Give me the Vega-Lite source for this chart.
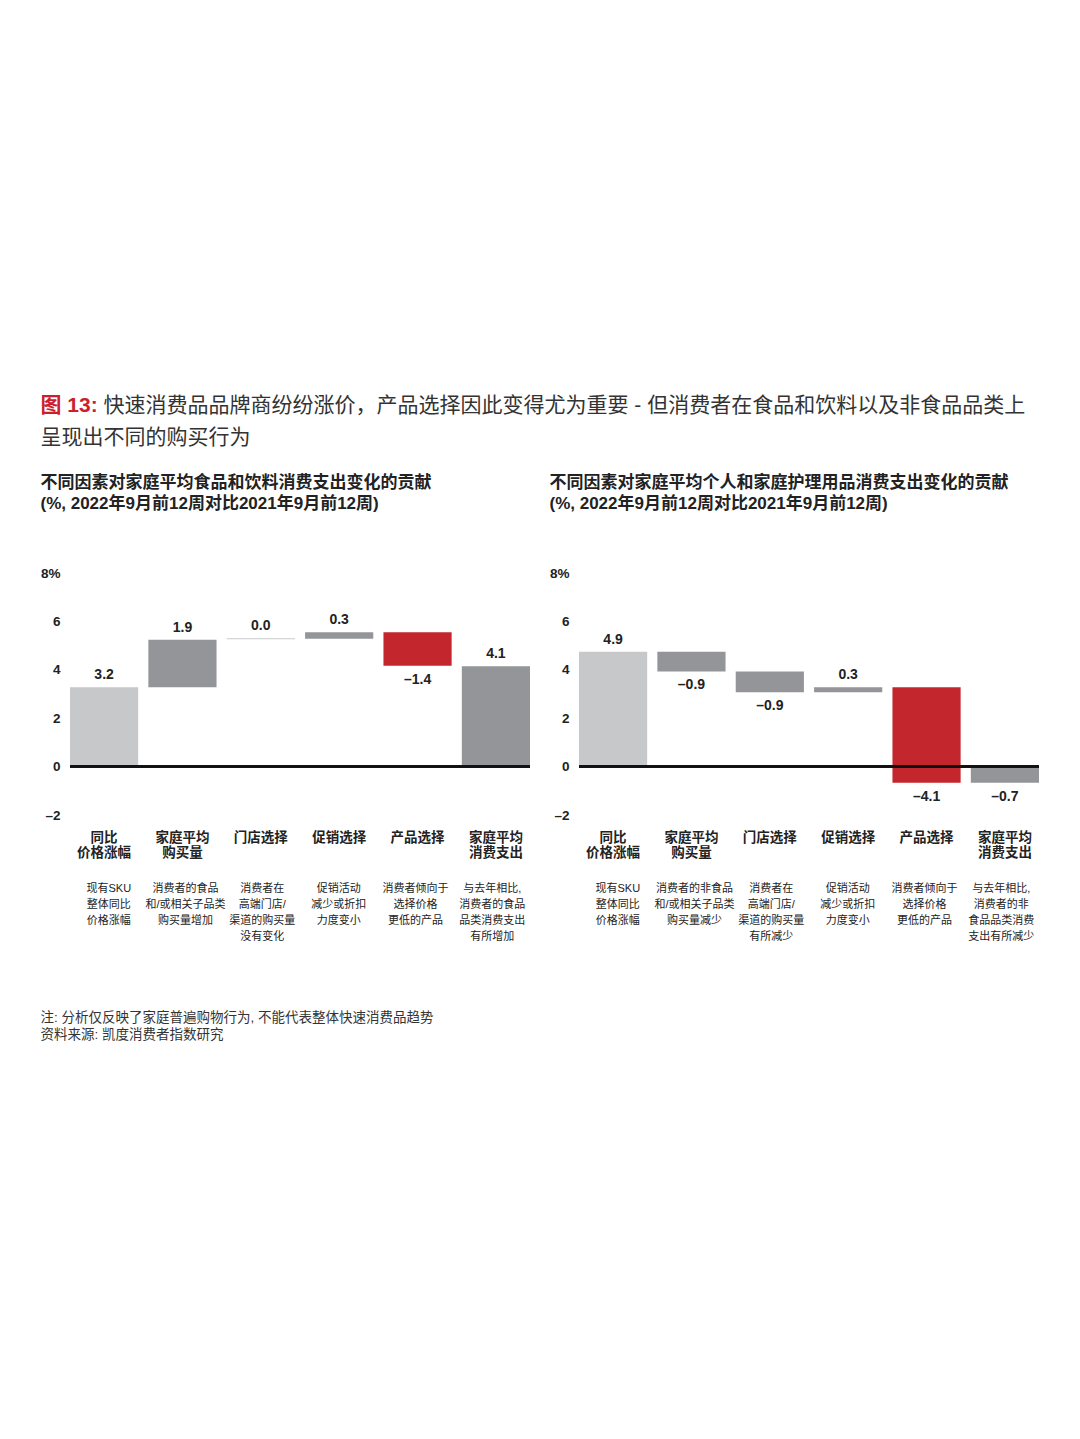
{
  "$schema": "https://vega.github.io/schema/vega-lite/v6.json",
  "padding": {"left": 40, "top": 395, "right": 20, "bottom": 10},
  "background": "white",
  "config": {
    "font": "Liberation Sans, Noto Sans CJK SC, sans-serif",
    "view": {"stroke": null},
    "axis": {"grid": false, "domain": false, "ticks": false},
    "axisX": {"labelAngle": 0}
  },
  "datasets": {
    "food": [
      {"cat": "同比|价格涨幅", "desc": "现有SKU|整体同比|价格涨幅", "start": 0, "end": 3.28, "label": "3.2", "kind": "起点"},
      {"cat": "家庭平均|购买量", "desc": "消费者的食品|和/或相关子品类|购买量增加", "start": 3.28, "end": 5.24, "label": "1.9", "kind": "变化"},
      {"cat": "门店选择", "desc": "消费者在|高端门店/|渠道的购买量|没有变化", "start": 5.26, "end": 5.3, "label": "0.0", "kind": "持平"},
      {"cat": "促销选择", "desc": "促销活动|减少或折扣|力度变小", "start": 5.28, "end": 5.55, "label": "0.3", "kind": "变化"},
      {"cat": "产品选择", "desc": "消费者倾向于|选择价格|更低的产品", "start": 5.55, "end": 4.17, "label": "–1.4", "kind": "产品选择"},
      {"cat": "家庭平均|消费支出", "desc": "与去年相比,|消费者的食品|品类消费支出|有所增加", "start": 0, "end": 4.15, "label": "4.1", "kind": "终点"}
    ],
    "care": [
      {"cat": "同比|价格涨幅", "desc": "现有SKU|整体同比|价格涨幅", "start": 0, "end": 4.75, "label": "4.9", "kind": "起点"},
      {"cat": "家庭平均|购买量", "desc": "消费者的非食品|和/或相关子品类|购买量减少", "start": 4.75, "end": 3.93, "label": "–0.9", "kind": "变化"},
      {"cat": "门店选择", "desc": "消费者在|高端门店/|渠道的购买量|有所减少", "start": 3.93, "end": 3.07, "label": "–0.9", "kind": "变化"},
      {"cat": "促销选择", "desc": "促销活动|减少或折扣|力度变小", "start": 3.07, "end": 3.28, "label": "0.3", "kind": "变化"},
      {"cat": "产品选择", "desc": "消费者倾向于|选择价格|更低的产品", "start": 3.28, "end": -0.67, "label": "–4.1", "kind": "产品选择"},
      {"cat": "家庭平均|消费支出", "desc": "与去年相比,|消费者的非|食品品类消费|支出有所减少", "start": 0, "end": -0.67, "label": "–0.7", "kind": "终点"}
    ]
  },
  "title": {
    "text": ["注: 分析仅反映了家庭普遍购物行为, 不能代表整体快速消费品趋势", "资料来源: 凯度消费者指数研究"],
    "orient": "bottom", "anchor": "start", "fontSize": 13.5, "fontWeight": "normal",
    "color": "#333", "offset": 70, "lineHeight": 17
  },
  "vconcat": [
    {
      "title": {"text": "图 13:", "color": "#cc1e2c", "fontSize": 21, "fontWeight": "bold", "anchor": "start", "offset": -21},
      "vconcat": [
        {
          "title": {
            "text": ["\u200b\u3000\u3000\u3000快速消费品品牌商纷纷涨价，产品选择因此变得尤为重要 - 但消费者在食品和饮料以及非食品品类上", "呈现出不同的购买行为"],
            "fontSize": 21, "fontWeight": "normal", "lineHeight": 32, "anchor": "start",
            "color": "#333", "offset": 26
          },
          "spacing": 18,
          "hconcat": [
            {
              "width": 460,
              "height": 242,
              "title": {
                "text": ["不同因素对家庭平均食品和饮料消费支出变化的贡献", "(%, 2022年9月前12周对比2021年9月前12周)"],
                "anchor": "start", "fontSize": 17, "fontWeight": "bold", "lineHeight": 21, "offset": 53, "color": "#222"
              },
              "data": {"name": "food"},
              "layer": [
                {
                  "layer": [
                    {
                      "mark": {"type": "bar"},
                      "encoding": {
                        "x": {
                          "field": "cat", "type": "nominal", "title": null,
                          "scale": {"domain": ["同比|价格涨幅", "家庭平均|购买量", "门店选择", "促销选择", "产品选择", "家庭平均|消费支出"], "paddingInner": 0.13, "paddingOuter": 0},
                          "axis": {"orient": "bottom", "labelExpr": "split(datum.label, '|')", "labelFontSize": 13.5, "labelFontWeight": "bold", "labelLineHeight": 15, "labelPadding": 15, "labelColor": "#222", "labelOverlap": false, "labelLimit": 0}
                        },
                        "y": {
                          "field": "start", "type": "quantitative", "title": null,
                          "scale": {"domain": [-2, 8], "nice": false, "zero": false},
                          "axis": {"values": [-2, 0, 2, 4, 6, 8], "labelExpr": "datum.value == 8 ? '8%' : datum.value < 0 ? '–' + abs(datum.value) : datum.label", "labelFontSize": 13.5, "labelFontWeight": "bold", "labelColor": "#222", "labelPadding": 10}
                        },
                        "y2": {"field": "end"},
                        "color": {
                          "field": "kind", "type": "nominal", "legend": null,
                          "scale": {"domain": ["起点", "变化", "持平", "产品选择", "终点"], "range": ["#c7c8ca", "#939598", "#c9cacc", "#c4262e", "#939598"]}
                        }
                      }
                    },
                    {
                      "transform": [{"filter": "datum.end >= datum.start"}],
                      "mark": {"type": "text", "baseline": "bottom", "dy": -5, "fontSize": 14, "fontWeight": "bold", "color": "#222"},
                      "encoding": {
                        "x": {"field": "cat", "type": "nominal", "title": null},
                        "y": {"field": "end", "type": "quantitative", "title": null},
                        "text": {"field": "label"}
                      }
                    },
                    {
                      "transform": [{"filter": "datum.end < datum.start"}],
                      "mark": {"type": "text", "baseline": "top", "dy": 7, "fontSize": 14, "fontWeight": "bold", "color": "#222"},
                      "encoding": {
                        "x": {"field": "cat", "type": "nominal", "title": null},
                        "y": {"field": "end", "type": "quantitative", "title": null},
                        "text": {"field": "label"}
                      }
                    },
                    {
                      "mark": {"type": "rule", "color": "#111", "strokeWidth": 2},
                      "encoding": {"y": {"datum": 0}}
                    }
                  ]
                },
                {
                  "mark": {"type": "text", "text": " "},
                  "encoding": {
                    "x": {
                      "field": "desc", "type": "nominal", "sort": null, "title": null,
                      "scale": {"paddingInner": 0.13, "paddingOuter": 0},
                      "axis": {"orient": "bottom", "labelExpr": "split(datum.label, '|')", "labelFontSize": 11, "labelLineHeight": 16, "labelPadding": 67, "labelColor": "#222", "labelOverlap": false, "labelLimit": 0}
                    }
                  }
                }
              ],
              "resolve": {"scale": {"x": "independent"}, "axis": {"x": "independent"}}
            },
            {
              "width": 460,
              "height": 242,
              "title": {
                "text": ["不同因素对家庭平均个人和家庭护理用品消费支出变化的贡献", "(%, 2022年9月前12周对比2021年9月前12周)"],
                "anchor": "start", "fontSize": 17, "fontWeight": "bold", "lineHeight": 21, "offset": 53, "color": "#222"
              },
              "data": {"name": "care"},
              "layer": [
                {
                  "layer": [
                    {
                      "mark": {"type": "bar"},
                      "encoding": {
                        "x": {
                          "field": "cat", "type": "nominal", "title": null,
                          "scale": {"domain": ["同比|价格涨幅", "家庭平均|购买量", "门店选择", "促销选择", "产品选择", "家庭平均|消费支出"], "paddingInner": 0.13, "paddingOuter": 0},
                          "axis": {"orient": "bottom", "labelExpr": "split(datum.label, '|')", "labelFontSize": 13.5, "labelFontWeight": "bold", "labelLineHeight": 15, "labelPadding": 15, "labelColor": "#222", "labelOverlap": false, "labelLimit": 0}
                        },
                        "y": {
                          "field": "start", "type": "quantitative", "title": null,
                          "scale": {"domain": [-2, 8], "nice": false, "zero": false},
                          "axis": {"values": [-2, 0, 2, 4, 6, 8], "labelExpr": "datum.value == 8 ? '8%' : datum.value < 0 ? '–' + abs(datum.value) : datum.label", "labelFontSize": 13.5, "labelFontWeight": "bold", "labelColor": "#222", "labelPadding": 10}
                        },
                        "y2": {"field": "end"},
                        "color": {
                          "field": "kind", "type": "nominal", "legend": null,
                          "scale": {"domain": ["起点", "变化", "持平", "产品选择", "终点"], "range": ["#c7c8ca", "#939598", "#c9cacc", "#c4262e", "#939598"]}
                        }
                      }
                    },
                    {
                      "transform": [{"filter": "datum.end >= datum.start"}],
                      "mark": {"type": "text", "baseline": "bottom", "dy": -5, "fontSize": 14, "fontWeight": "bold", "color": "#222"},
                      "encoding": {
                        "x": {"field": "cat", "type": "nominal", "title": null},
                        "y": {"field": "end", "type": "quantitative", "title": null},
                        "text": {"field": "label"}
                      }
                    },
                    {
                      "transform": [{"filter": "datum.end < datum.start"}],
                      "mark": {"type": "text", "baseline": "top", "dy": 7, "fontSize": 14, "fontWeight": "bold", "color": "#222"},
                      "encoding": {
                        "x": {"field": "cat", "type": "nominal", "title": null},
                        "y": {"field": "end", "type": "quantitative", "title": null},
                        "text": {"field": "label"}
                      }
                    },
                    {
                      "mark": {"type": "rule", "color": "#111", "strokeWidth": 2},
                      "encoding": {"y": {"datum": 0}}
                    }
                  ]
                },
                {
                  "mark": {"type": "text", "text": " "},
                  "encoding": {
                    "x": {
                      "field": "desc", "type": "nominal", "sort": null, "title": null,
                      "scale": {"paddingInner": 0.13, "paddingOuter": 0},
                      "axis": {"orient": "bottom", "labelExpr": "split(datum.label, '|')", "labelFontSize": 11, "labelLineHeight": 16, "labelPadding": 67, "labelColor": "#222", "labelOverlap": false, "labelLimit": 0}
                    }
                  }
                }
              ],
              "resolve": {"scale": {"x": "independent"}, "axis": {"x": "independent"}}
            }
          ]
        }
      ]
    }
  ]
}
